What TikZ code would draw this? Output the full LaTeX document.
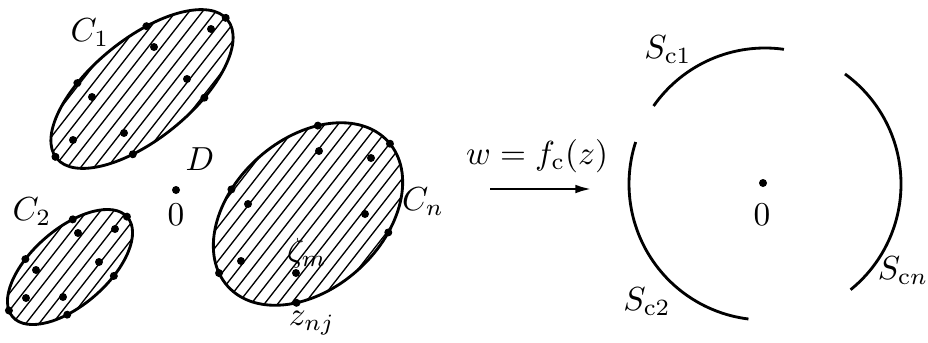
\documentclass[tikz,border=0pt]{standalone}
\usepackage{amsmath}
\usetikzlibrary{arrows.meta,calc}

\begin{document}
\begin{tikzpicture}[x=0.3pt,y=0.3pt,
  rim/.style={line width=0.85pt},
  hatch/.style={line width=0.4pt},
  lbl/.style={font=\fontsize{10}{12}\selectfont,inner sep=1pt}]
  \useasboundingbox (0,0) rectangle (928,342);
  % hatched domains C_1, C_2, C_n
  \foreach \cx/\cy/\ang/\ra/\rb/\ts in {142/253/39/110/50/{178,244,115,67,3,-67},
      70/75/41/76/38/{64,1,112,-69,169,244},
      308/128/42/108/75/{52,-2,112,-64,168,231}}{
    \begin{scope}[shift={(\cx,\cy)},rotate=\ang]
      \begin{scope}
        \clip (0,0) ellipse [x radius=\ra, y radius=\rb];
        \foreach \k in {-14,...,14}
          \draw[hatch] ({140-\ang}:{\k*10.5}) +({52-\ang}:-170) -- +({52-\ang}:170);
      \end{scope}
      \draw[rim] (0,0) ellipse [x radius=\ra, y radius=\rb];
      \foreach \t in \ts
        \fill ({\ra*cos(\t)},{\rb*sin(\t)}) circle (4);
    \end{scope}
  }
  \foreach \p in {(92,245),(73,202),(124,209),(154,295),(187,263),(211,313),
      (78,109),(115,113),(36,72),(99,80),(26,44),(63,45),
      (319,191),(371,184),(248,138),(365,128),(241,81),(296,69)}
    \fill \p circle (4);
  \fill (176,152) circle (4);

  \node[lbl] (lc1) at (90,309) {$C_1$};
  \node[lbl] (lc2) at (32,130) {$C_2$};
  \node[lbl] (lcn) at (423,140) {$C_n$};
  \node[lbl] (ld) at (200,183) {$D$};
  \node[lbl] (lz0) at (176,127) {$0$};
  \node[lbl] (lzeta) at (307,89) {$\zeta_m$};
  \node[lbl] (lznj) at (312,19) {$z_{nj}$};

  % the map
  \coordinate (p) at (490,153);
  \coordinate (q) at (592,153);
  \draw[rim,-{Latex[length=5pt,width=2.6pt]}] (p) -- (q);
  \node[lbl] (lmap) at (537,186) {$w=f_{\mathrm{c}}(z)$};

  % slit circle domain
  \coordinate (o) at (765,158);
  \fill (763,159) circle (4);
  \draw[rim] ($(o)+(82:136)$) arc[start angle=82,end angle=145,radius=136];
  \draw[rim] ($(o)+(162:136)$) arc[start angle=162,end angle=263,radius=136];
  \draw[rim] ($(o)+(-51:136)$) arc[start angle=-51,end angle=54,radius=136];
  \node[lbl] (lw0) at (762,127) {$0$};
  \node[lbl] (ls1) at (668,292) {$S_{\mathrm{c}1}$};
  \node[lbl] (ls2) at (647,40) {$S_{\mathrm{c}2}$};
  \node[lbl] (lsn) at (903,71) {$S_{\mathrm{c}n}$};
\end{tikzpicture}
\end{document}
